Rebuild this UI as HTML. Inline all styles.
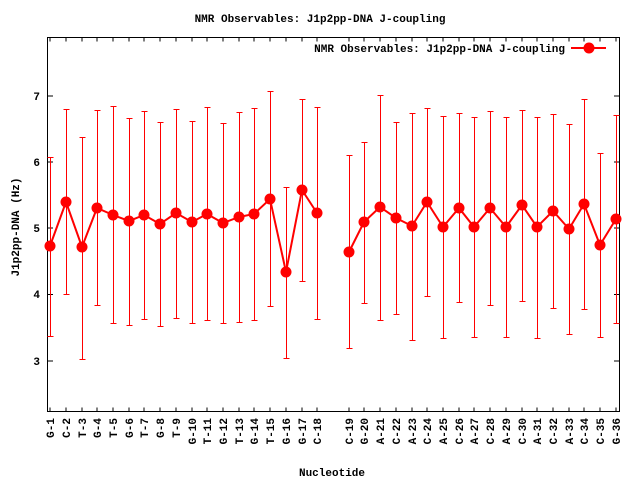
<!DOCTYPE html>
<html><head><meta charset="utf-8"><style>
html,body{margin:0;padding:0;background:#fff}
text{font-family:"Liberation Mono","DejaVu Sans Mono",monospace;font-weight:bold;font-size:11px;fill:#000}
</style></head><body>
<svg width="640" height="480" xmlns="http://www.w3.org/2000/svg">
<rect width="640" height="480" fill="#fff"/>
<text x="320" y="22" text-anchor="middle">NMR Observables: J1p2pp-DNA J-coupling</text>
<rect x="47.5" y="37.5" width="572" height="374" fill="none" stroke="#000" stroke-width="1"/>
<g stroke="#000" shape-rendering="crispEdges">
<line x1="47.5" y1="96" x2="53" y2="96"/><line x1="619.5" y1="96" x2="614" y2="96"/>
<line x1="47.5" y1="162" x2="53" y2="162"/><line x1="619.5" y1="162" x2="614" y2="162"/>
<line x1="47.5" y1="228" x2="53" y2="228"/><line x1="619.5" y1="228" x2="614" y2="228"/>
<line x1="47.5" y1="294.5" x2="53" y2="294.5"/><line x1="619.5" y1="294.5" x2="614" y2="294.5"/>
<line x1="47.5" y1="361" x2="53" y2="361"/><line x1="619.5" y1="361" x2="614" y2="361"/>
</g>
<text x="40" y="100" text-anchor="end">7</text>
<text x="40" y="166" text-anchor="end">6</text>
<text x="40" y="232" text-anchor="end">5</text>
<text x="40" y="298" text-anchor="end">4</text>
<text x="40" y="365" text-anchor="end">3</text>
<text transform="translate(19,227) rotate(-90)" text-anchor="middle">J1p2pp-DNA (Hz)</text>
<text x="332" y="476" text-anchor="middle">Nucleotide</text>
<g stroke="#000" shape-rendering="crispEdges">
<path d="M50,411.5v-4M66,411.5v-4M82,411.5v-4M97,411.5v-4M113,411.5v-4M129,411.5v-4M144,411.5v-4M160,411.5v-4M176,411.5v-4M192,411.5v-4M207,411.5v-4M223,411.5v-4M239,411.5v-4M254,411.5v-4M270,411.5v-4M286,411.5v-4M302,411.5v-4M317,411.5v-4M349,411.5v-4M364,411.5v-4M380,411.5v-4M396,411.5v-4M412,411.5v-4M427,411.5v-4M443,411.5v-4M459,411.5v-4M474,411.5v-4M490,411.5v-4M506,411.5v-4M522,411.5v-4M537,411.5v-4M553,411.5v-4M569,411.5v-4M584,411.5v-4M600,411.5v-4M616,411.5v-4"/>
<path d="M50,37.5v4M66,37.5v4M82,37.5v4M97,37.5v4M113,37.5v4M129,37.5v4M144,37.5v4M160,37.5v4M176,37.5v4M192,37.5v4M207,37.5v4M223,37.5v4M239,37.5v4M254,37.5v4M270,37.5v4M286,37.5v4M302,37.5v4M317,37.5v4M349,37.5v4M364,37.5v4M380,37.5v4M396,37.5v4M412,37.5v4M427,37.5v4M443,37.5v4M459,37.5v4M474,37.5v4M490,37.5v4M506,37.5v4M522,37.5v4M537,37.5v4M553,37.5v4M569,37.5v4M584,37.5v4M600,37.5v4M616,37.5v4"/>
</g>
<g text-anchor="end">
<text transform="translate(54,418) rotate(-90)">G-1</text>
<text transform="translate(70,418) rotate(-90)">C-2</text>
<text transform="translate(86,418) rotate(-90)">T-3</text>
<text transform="translate(101,418) rotate(-90)">G-4</text>
<text transform="translate(117,418) rotate(-90)">T-5</text>
<text transform="translate(133,418) rotate(-90)">G-6</text>
<text transform="translate(148,418) rotate(-90)">T-7</text>
<text transform="translate(164,418) rotate(-90)">G-8</text>
<text transform="translate(180,418) rotate(-90)">T-9</text>
<text transform="translate(196,418) rotate(-90)">G-10</text>
<text transform="translate(211,418) rotate(-90)">T-11</text>
<text transform="translate(227,418) rotate(-90)">G-12</text>
<text transform="translate(243,418) rotate(-90)">T-13</text>
<text transform="translate(258,418) rotate(-90)">G-14</text>
<text transform="translate(274,418) rotate(-90)">T-15</text>
<text transform="translate(290,418) rotate(-90)">G-16</text>
<text transform="translate(306,418) rotate(-90)">G-17</text>
<text transform="translate(321,418) rotate(-90)">C-18</text>
<text transform="translate(353,418) rotate(-90)">C-19</text>
<text transform="translate(368,418) rotate(-90)">G-20</text>
<text transform="translate(384,418) rotate(-90)">A-21</text>
<text transform="translate(400,418) rotate(-90)">C-22</text>
<text transform="translate(416,418) rotate(-90)">A-23</text>
<text transform="translate(431,418) rotate(-90)">C-24</text>
<text transform="translate(447,418) rotate(-90)">A-25</text>
<text transform="translate(463,418) rotate(-90)">C-26</text>
<text transform="translate(478,418) rotate(-90)">A-27</text>
<text transform="translate(494,418) rotate(-90)">C-28</text>
<text transform="translate(510,418) rotate(-90)">A-29</text>
<text transform="translate(526,418) rotate(-90)">C-30</text>
<text transform="translate(541,418) rotate(-90)">A-31</text>
<text transform="translate(557,418) rotate(-90)">C-32</text>
<text transform="translate(573,418) rotate(-90)">A-33</text>
<text transform="translate(588,418) rotate(-90)">C-34</text>
<text transform="translate(604,418) rotate(-90)">C-35</text>
<text transform="translate(620,418) rotate(-90)">G-36</text>
</g>
<g stroke="#f00" stroke-width="1" fill="none" shape-rendering="crispEdges" transform="translate(0.5,0.5)">
<path d="M50,157V336M47,157h6M47,336h6
M66,109V294M63,109h6M63,294h6
M82,137V359M79,137h6M79,359h6
M97,110V305M94,110h6M94,305h6
M113,106V323M110,106h6M110,323h6
M129,118V325M126,118h6M126,325h6
M144,111V319M141,111h6M141,319h6
M160,122V326M157,122h6M157,326h6
M176,109V318M173,109h6M173,318h6
M192,121V323M189,121h6M189,323h6
M207,107V320M204,107h6M204,320h6
M223,123V323M220,123h6M220,323h6
M239,112V322M236,112h6M236,322h6
M254,108V320M251,108h6M251,320h6
M270,91V306M267,91h6M267,306h6
M286,187V358M283,187h6M283,358h6
M302,99V281M299,99h6M299,281h6
M317,107V319M314,107h6M314,319h6
M349,155V348M346,155h6M346,348h6
M364,142V303M361,142h6M361,303h6
M380,95V320M377,95h6M377,320h6
M396,122V314M393,122h6M393,314h6
M412,113V340M409,113h6M409,340h6
M427,108V296M424,108h6M424,296h6
M443,116V338M440,116h6M440,338h6
M459,113V302M456,113h6M456,302h6
M474,117V337M471,117h6M471,337h6
M490,111V305M487,111h6M487,305h6
M506,117V337M503,117h6M503,337h6
M522,110V301M519,110h6M519,301h6
M537,117V338M534,117h6M534,338h6
M553,114V308M550,114h6M550,308h6
M569,124V334M566,124h6M566,334h6
M584,99V309M581,99h6M581,309h6
M600,153V337M597,153h6M597,337h6
M616,115V323M613,115h6M613,323h6"/>
</g>
<g stroke="#f00" stroke-width="2" fill="none">
<polyline points="50,246 66,202 82,247 97,208 113,215 129,221 144,215 160,224 176,213 192,222 207,214 223,223 239,217 254,214 270,199 286,272 302,190 317,213"/>
<polyline points="349,252 364,222 380,207 396,218 412,226 427,202 443,227 459,208 474,227 490,208 506,227 522,205 537,227 553,211 569,229 584,204 600,245 616,219"/>
<line x1="571" y1="48" x2="606" y2="48"/>
</g>
<g fill="#f00">
<circle cx="50" cy="246" r="5.5"/><circle cx="66" cy="202" r="5.5"/><circle cx="82" cy="247" r="5.5"/><circle cx="97" cy="208" r="5.5"/><circle cx="113" cy="215" r="5.5"/><circle cx="129" cy="221" r="5.5"/><circle cx="144" cy="215" r="5.5"/><circle cx="160" cy="224" r="5.5"/><circle cx="176" cy="213" r="5.5"/><circle cx="192" cy="222" r="5.5"/><circle cx="207" cy="214" r="5.5"/><circle cx="223" cy="223" r="5.5"/><circle cx="239" cy="217" r="5.5"/><circle cx="254" cy="214" r="5.5"/><circle cx="270" cy="199" r="5.5"/><circle cx="286" cy="272" r="5.5"/><circle cx="302" cy="190" r="5.5"/><circle cx="317" cy="213" r="5.5"/>
<circle cx="349" cy="252" r="5.5"/><circle cx="364" cy="222" r="5.5"/><circle cx="380" cy="207" r="5.5"/><circle cx="396" cy="218" r="5.5"/><circle cx="412" cy="226" r="5.5"/><circle cx="427" cy="202" r="5.5"/><circle cx="443" cy="227" r="5.5"/><circle cx="459" cy="208" r="5.5"/><circle cx="474" cy="227" r="5.5"/><circle cx="490" cy="208" r="5.5"/><circle cx="506" cy="227" r="5.5"/><circle cx="522" cy="205" r="5.5"/><circle cx="537" cy="227" r="5.5"/><circle cx="553" cy="211" r="5.5"/><circle cx="569" cy="229" r="5.5"/><circle cx="584" cy="204" r="5.5"/><circle cx="600" cy="245" r="5.5"/><circle cx="616" cy="219" r="5.5"/>
<circle cx="589" cy="48" r="5.5"/>
</g>
<text x="565" y="52" text-anchor="end">NMR Observables: J1p2pp-DNA J-coupling</text>
</svg>
</body></html>
